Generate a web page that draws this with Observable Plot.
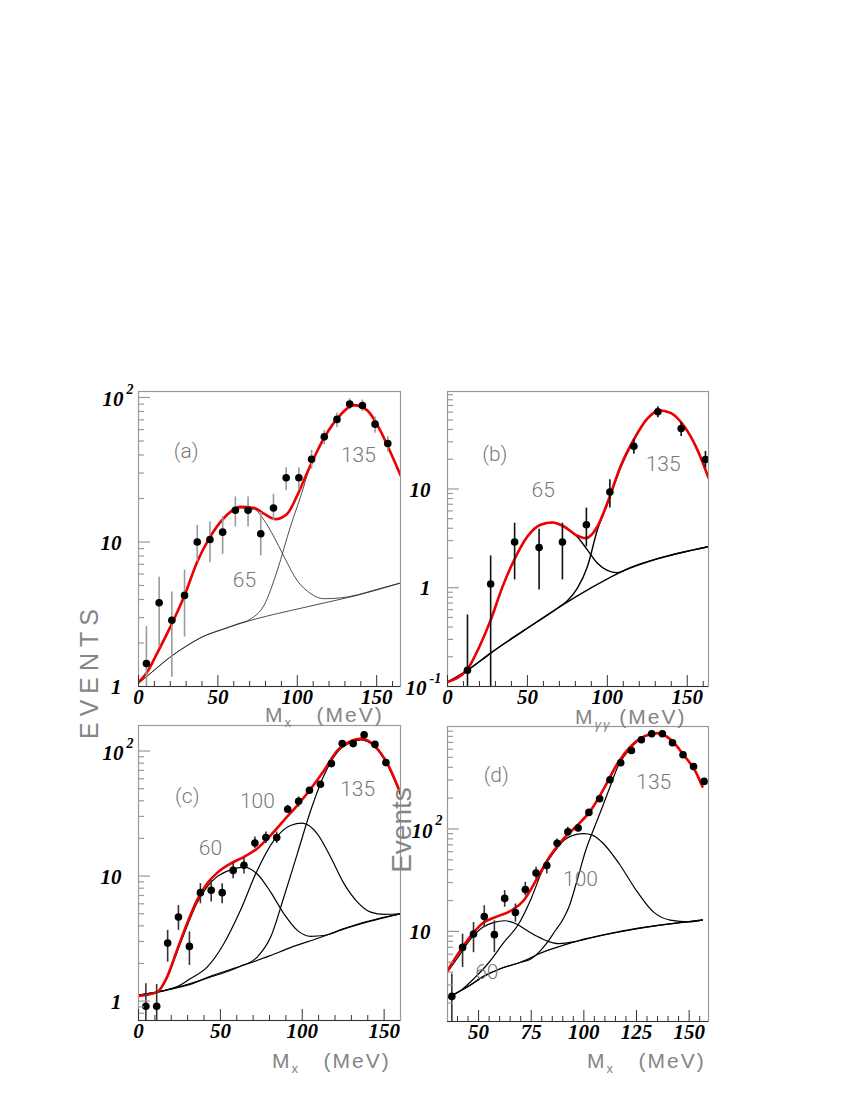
<!DOCTYPE html>
<html><head><meta charset="utf-8">
<script src="https://cdn.jsdelivr.net/npm/d3@7"></script>
<script src="https://cdn.jsdelivr.net/npm/@observablehq/plot@0.6"></script>
<style>
body{margin:0;background:#fff;}
#page{position:relative;width:850px;height:1100px;overflow:hidden;background:#fff;}
.lbl{position:absolute;font-family:"Liberation Sans",Arial,sans-serif;color:#858585;white-space:nowrap;line-height:1;}
.rot{transform:translate(-50%,-50%) rotate(-90deg);}
</style></head><body><div id="page"></div>
<script>
// ---------- Panel (a) ----------
const aX   = [5,13,21,29,37,45,53,61,69,77,85,93,101,109,117,125,133,141,149,157];
const aY   = [1.44,3.8,2.87,4.27,10,10.4,11.7,16.6,16.6,11.4,17.2,27.8,27.8,37.4,53.4,70.5,90,88,65.4,48];
const aHi  = [2.6,5.7,4.5,6.4,13,13.8,15,20.5,20.5,16,21.4,32.7,32.7,43,59,78,98,96,73.4,53.5];
const aLo  = [1,1.87,1.16,2.2,7.3,7.2,8.2,12.7,12.7,8,14.1,22.7,22.7,32,47,62,82,80,56.6,42];
const aRedX = [0,5.3,11.6,22,29,37,45,53.4,64,73,79,86.4,93.7,100,106,116.6,127,135.5,143.9,152.3,158.6,165];
const aRedY = [1.07,1.25,1.69,2.87,4.27,7.3,10.8,14.5,17.5,17.2,15.7,14.4,15.7,21,29.8,52,75.5,88.5,81.8,59,42,29];
const aBgX = [0,10,20,30,40,53.6,74.6,95.6,116.6,137.6,165];
const aBgY = [1.05,1.3,1.6,1.9,2.2,2.5,2.95,3.35,3.78,4.27,5.2];
const a65X = [0,5.3,11.6,22,29,37,45,53.4,64,73,79,85.4,91.7,100,108.5,116.6,127,137.6,150,165];
const a65Y = [1.07,1.24,1.66,2.83,4.2,7.2,10.6,14.2,17.2,16.8,14.2,10.8,7.9,5.4,4.39,4.05,4.1,4.3,4.7,5.2];
const a135X = [0,10,20,30,40,53.6,62,71,79,87.5,95.6,104,106,116.6,127,135.5,143.9,152.3,158.6,165];
const a135Y = [1.05,1.3,1.6,1.9,2.2,2.5,2.7,2.95,3.64,6.4,12.7,24,28.5,50.5,74,87.5,81,58.5,41.5,28.7];
const aYTicks = [1,10,100], aYText = ["1","10","10"], aYExp = ["","","2"];
const aXTicks = [0,50,100,150];

// ---------- Panel (b) ----------
const bX  = [12.5,27,42,57.3,71.9,86.9,101.6,116.6,131.6,146.2,161.4];
const bY  = [0.146,1.09,2.9,2.55,2.9,4.34,9.3,27.1,60.6,41,19.9];
const bHi = [0.53,2.1,4.5,3.9,4.5,6.4,12.4,31.6,67.8,47,24];
const bLo = [0.1,0.1,1.2,0.95,1.2,2.6,6.4,22.4,52.6,34,16.3];
const bRedX = [0,12.5,19.8,27,34.4,41.7,50,58.3,65.6,72.9,80.2,86.5,93.8,100,108.3,116.6,125,132.3,139.6,148,156.3,163.3];
const bRedY = [0.111,0.15,0.25,0.47,1.02,1.91,3.3,4.34,4.58,4.17,3.43,3.18,4.17,7.2,17,31.7,51.4,62.5,59,43.3,25,13];
const bBgX = [0,12.5,27,47.9,68.8,89.6,110.4,131.3,163.3];
const bBgY = [0.111,0.146,0.218,0.37,0.62,0.99,1.49,1.96,2.61];
const b65X = [0,12.5,19.8,27,34.4,41.7,50,58.3,65.6,72.9,81,87.5,93.8,100,106,115,131.3,163.3];
const b65Y = [0.111,0.15,0.25,0.47,1.02,1.91,3.3,4.34,4.58,4.12,3.3,2.42,1.77,1.5,1.42,1.62,1.97,2.61];
const b135X = [0,12.5,27,47.9,68.8,75,81.3,87.5,93.8,100,108.3,116.6,125,132.3,139.6,148,156.3,163.3];
const b135Y = [0.111,0.146,0.218,0.37,0.62,0.74,0.99,1.63,3.86,7.0,16.4,31.2,51,62,58.6,43,24.8,12.8];
const bYTicks = [0.1,1,10], bYText = ["10","1","10"], bYExp = ["-1","",""];
const bXTicks = [0,50,100,150];

// ---------- Panel (c) ----------
const cX  = [4.5,11.1,17.8,24.4,31.1,37.8,44.4,51.1,57.8,64.4,71.1,77.8,84.4,91.1,97.8,104.4,111.1,117.8,124.4,131.1,137.8,144.4,151.1];
const cY  = [0.91,0.91,2.91,4.7,2.74,7.37,7.7,7.37,11.1,12.2,18.4,20.3,20.3,34.2,39.6,48.5,54.2,79.3,114.6,114.6,135,113,80.8];
const cHi = [1.38,1.36,3.68,5.8,3.57,8.7,9.2,8.7,12.6,13.8,20.5,22.5,22.5,36.8,42.9,null,null,null,null,null,null,null,null];
const cLo = [0.7,0.7,2.05,3.68,1.93,6.0,6.2,6.0,9.5,10.4,16.6,18.2,18.2,31.6,35.6,null,null,null,null,null,null,null,null];
const cRedX = [0,11.3,17.4,23.5,29.6,35.7,41.9,48,56.2,64.3,72.5,80.7,88.8,97,105.2,113.3,121.5,129.6,135.8,143.9,152.1,160];
const cRedY = [1.1,1.18,1.56,2.55,4.16,6.4,8.7,10.6,12.6,14.2,16.6,21.2,27.9,36.8,50,70,101,120,125.6,111,79,46];
const cBgX = [0,10,20,31.6,45,62.2,80,92.8,110,123.4,140,160];
const cBgY = [1.12,1.17,1.25,1.36,1.6,1.9,2.3,2.68,3.2,3.7,4.3,5.0];
const c60X = [0,11.3,17.4,23.5,29.6,35.7,41.9,48,56.2,64.3,72.5,80.7,88.8,97,105.2,113.3,125,140,160];
const c60Y = [1.1,1.17,1.52,2.45,3.95,6.1,8.2,9.9,11.2,11.8,10.4,7.45,5.0,3.68,3.3,3.35,3.78,4.35,5.0];
const c100X = [0,10,20,25,31.6,41.9,52.1,62.2,72.5,82.7,92.8,100,109.2,117.3,125.5,133.7,141.8,150,160];
const c100Y = [1.12,1.17,1.26,1.33,1.51,1.87,2.88,5.3,11.1,19.3,25.4,26.5,21.8,14.2,8.7,6.2,5.15,4.94,5.0];
const c135X = [0,20,40,62.2,72.5,80.7,88.8,97,105.2,113.3,121.5,129.6,135.8,143.9,152.1,160];
const c135Y = [1.12,1.25,1.5,1.9,2.25,3.25,6.8,15.1,33.6,64,98,117,123,109,77,44.5];
const cYTicks = [1,10,100], cYText = ["1","10","10"], cYExp = ["","","2"];
const cXTicks = [0,50,100,150];

// ---------- Panel (d) ----------
const dX  = [37.3,42.4,47.6,52.7,57.5,62.4,67.5,72.2,77.3,82.4,87.3,92.4,97.3,102.4,107.5,112.4,117.5,122.6,127.3,132.2,137.3,142.1,147.1,152.1,157.1];
const dY  = [2.32,6.98,9.44,14,9.3,21,15.3,25.6,37.2,43.9,72.5,94,102,145,197,302,443,584,743,850,850,694,530,407,291];
const dHi = [3.84,9.4,12.2,17.8,12.7,25,18.5,30.1,42.3,49,80,104,110,null,null,null,null,null,null,null,null,null,null,null,null];
const dLo = [1.32,4.45,6.2,10.9,6.2,17.2,12.3,22.3,32.5,36.4,66,86,94,null,null,null,null,null,null,null,null,null,null,null,null];
const dRedX = [35.4,41.3,46.8,52.4,58,65.5,71.4,74.5,77.8,84.1,90.5,96.8,103.2,109.5,115.9,122.2,128.6,134.9,141.3,147.6,153.2,156.3];
const dRedY = [4.2,6.5,9.3,12.2,13.8,16.0,20,25,33,55,81,108,151,247,433,638,800,861,743,522,358,259];
const dBgX = [35.2,45,53,60,70,80,90,100,115,130,145,156.3];
const dBgY = [2.25,2.9,3.7,4.3,5.0,6.2,7.3,8.3,9.7,11.0,12.1,12.9];
const d60X = [35.2,40,46,52,57,62.5,68,73,78,83,88,95,100,115,130,145,156.3];
const d60Y = [4.0,5.5,8.3,11.0,12.2,12.7,11.8,10.2,8.9,8.0,7.6,7.9,8.4,9.8,11.05,12.15,12.95];
const d100X = [35.2,42,48,55,62,69,75,80,86,91,96,100,104,109,117,125,133,141,150,156.3];
const d100Y = [2.25,2.7,3.5,5.0,7.8,11.8,21,38,60,79,88,90,87,73,45,25,15.5,12.9,12.4,12.9];
const d135X = [35.2,45,53,60,70,75,82,86.5,90,93,96.5,100.8,104.7,108.7,112.5,116,122.2,128.6,134.9,141.3,147.6,153.2,156.3];
const d135Y = [2.25,2.9,3.7,4.3,5.0,5.4,7.5,10.2,13,17.5,30,61,100,162,260,400,615,790,855,738,518,356,258];
const dYTicks = [10,100], dYText = ["10","10"], dYExp = ["","2"];
const dXTicks = [50,75,100,125,150];

// ---------- layout / drawing ----------
const FRAME = "#9a9a9a";
const AXIS = "#333";
const NOTE = "#7a7a7a";
const tickFont = {fontFamily:'"Liberation Serif","Times New Roman",serif', fontWeight:"bold", fontStyle:"italic", fontSize:21, fill:"#000"};
const noteFont = {fontFamily:'Roboto,"Liberation Sans",sans-serif', fontWeight:300, fontSize:21, fill:NOTE};

function minorsLog(lo, hi) {
  const out = [];
  for (let e = -2; e <= 3; e++) for (let m = 2; m <= 9; m++) {
    const v = m * Math.pow(10, e);
    if (v > lo * 1.02 && v < hi * 0.98) out.push(+v.toPrecision(3));
  }
  return out;
}

const panels = [
  {left:138, top:391, w:262, h:295, xDomain:[0,165], yDomain:[1,110],
   x:aX, y:aY, hi:aHi, lo:aLo, errColor:"#9a9a9a",
   red:[aRedX,aRedY], comps:[[aBgX,aBgY],[a65X,a65Y],[a135X,a135Y]], compColor:"#222", compWidth:0.8,
   yTicks:aYTicks, yText:aYText, yExp:aYExp, xTicks:aXTicks, xMinorStep:10,
   notes:[["(a)",30,42.5],["135",138.5,40],["65",66.7,5.4]]},
  {left:447, top:391, w:261, h:295, xDomain:[0,163.3], yDomain:[0.1,97],
   x:bX, y:bY, hi:bHi, lo:bLo, errColor:"#111",
   red:[bRedX,bRedY], comps:[[bBgX,bBgY],[b65X,b65Y],[b135X,b135Y]], compColor:"#000", compWidth:1.4,
   yTicks:bYTicks, yText:bYText, yExp:bYExp, xTicks:bXTicks, xMinorStep:10,
   notes:[["(b)",29.6,22.3],["135",134.9,17.7],["65",59.9,9.6]]},
  {left:138, top:725, w:262, h:295, xDomain:[0,160], yDomain:[0.7,160],
   x:cX, y:cY, hi:cHi, lo:cLo, errColor:"#333",
   red:[cRedX,cRedY], comps:[[cBgX,cBgY],[c60X,c60Y],[c100X,c100Y],[c135X,c135Y]], compColor:"#000", compWidth:1.2,
   yTicks:cYTicks, yText:cYText, yExp:cYExp, xTicks:cXTicks, xMinorStep:10,
   notes:[["(c)",29.8,43.4],["100",72.6,39.6],["135",133.8,49.4],["60",43.9,16.8]]},
  {left:447, top:726, w:261, h:295, xDomain:[35.24,159.2], yDomain:[1.32,1000],
   x:dX, y:dY, hi:dHi, lo:dLo, errColor:"#333",
   red:[dRedX,dRedY], comps:[[dBgX,dBgY],[d60X,d60Y],[d100X,d100Y],[d135X,d135Y]], compColor:"#000", compWidth:1.2,
   yTicks:dYTicks, yText:dYText, yExp:dYExp, xTicks:dXTicks, xMinorStep:5,
   notes:[["(d)",58.4,333],["135",133.2,284],["100",98.4,32],["60",53.9,4.0]]}
];

const page = document.getElementById("page");
const ML = 62, MR = 8, MT = 14, MB = 46;

for (const p of panels) {
  const pts = p.x.map((x,i) => ({x, y:p.y[i], hi:p.hi[i], lo:p.lo[i]}));
  const pairs = (xs, ys) => xs.map((x,i) => ({x, y:ys[i]}));
  const yl = p.yTicks.map((v,i) => ({v, b:p.yText[i], e:p.yExp[i]}));
  const xMinor = d3.range(Math.ceil(p.xDomain[0]/p.xMinorStep)*p.xMinorStep, p.xDomain[1], p.xMinorStep)
    .filter(v => !p.xTicks.includes(v) && v > p.xDomain[0]+0.5);
  const yMinor = minorsLog(p.yDomain[0], p.yDomain[1]);
  const yMajor = p.yTicks.filter(v => v > p.yDomain[0]*1.02 && v < p.yDomain[1]*0.98);

  const marks = [
    ...p.comps.map(([xs,ys]) => Plot.line(pairs(xs,ys), {x:"x", y:"y", curve:"monotone-x", stroke:p.compColor, strokeWidth:p.compWidth, clip:true})),
    Plot.line(pairs(p.red[0], p.red[1]), {x:"x", y:"y", curve:"monotone-x", stroke:"#ee0000", strokeWidth:2.6, clip:true}),
    Plot.ruleX(pts.filter(d => d.hi != null), {x:"x", y1:"lo", y2:"hi", stroke:p.errColor, strokeWidth:1.6, clip:true}),
    Plot.dot(pts, {x:"x", y:"y", r:3.8, fill:"#000", stroke:"none", clip:true}),
    Plot.frame({stroke:FRAME, strokeWidth:1.2}),
    Plot.ruleY([p.yDomain[0]], {stroke:AXIS, strokeWidth:1.2}),
    Plot.tickY(yMajor, {y:d => d, insetRight:p.w-12, stroke:FRAME, strokeWidth:1.2}),
    Plot.tickY(yMinor, {y:d => d, insetRight:p.w-6, stroke:FRAME, strokeWidth:1.2}),
    Plot.tickX(p.xTicks, {x:d => d, insetTop:p.h-11, stroke:AXIS, strokeWidth:1}),
    Plot.tickX(xMinor, {x:d => d, insetTop:p.h-5, stroke:AXIS, strokeWidth:1}),
    Plot.text(p.xTicks, {x:d => d, text:d => String(d), frameAnchor:"bottom", dy:17, ...tickFont}),
    Plot.text(yl.filter(d => !d.e), {y:"v", text:"b", frameAnchor:"left", textAnchor:"end", dx:-17, dy:1, ...tickFont}),
    ...yl.filter(d => d.e).map(d => Plot.text([d], {y:"v", text:"b", frameAnchor:"left", textAnchor:"end", dx:-(9 + 6*d.e.length), dy:2, ...tickFont})),
    ...yl.filter(d => d.e).map(d => Plot.text([d], {y:"v", text:"e", frameAnchor:"left", textAnchor:"start", dx:-(6 + 6*d.e.length), dy:-8, ...tickFont, fontSize:14})),
    Plot.text(p.notes, {x:d => d[1], y:d => d[2], text:d => d[0], ...noteFont})
  ];

  const svg = Plot.plot({
    width: ML + p.w + MR, height: MT + p.h + MB,
    marginLeft: ML, marginRight: MR, marginTop: MT, marginBottom: MB,
    x: {type:"linear", domain:p.xDomain, axis:null},
    y: {type:"log", domain:p.yDomain, axis:null},
    style: {background:"transparent", overflow:"visible"},
    marks
  });
  svg.style.position = "absolute";
  svg.style.left = (p.left - ML) + "px";
  svg.style.top = (p.top - MT) + "px";
  page.appendChild(svg);
}

// ---------- text overlays ----------
function addLabel(html, css) {
  const d = document.createElement("div");
  d.className = "lbl";
  d.innerHTML = html;
  Object.assign(d.style, css);
  page.appendChild(d);
}
const mx = 'M<span style="font-size:13px;position:relative;top:5px">x</span>&nbsp;&nbsp;&nbsp;(MeV)';
const mgg = 'M<span style="font-size:13px;position:relative;top:5px;font-style:italic">&gamma;&gamma;</span>&nbsp;(MeV)';
addLabel(mx,  {left:"265px", top:"704px", fontSize:"21px", letterSpacing:"2px"});
addLabel(mgg, {left:"575px", top:"706px", fontSize:"21px", letterSpacing:"2px"});
addLabel(mx,  {left:"272px", top:"1050px", fontSize:"21px", letterSpacing:"2px"});
addLabel(mx,  {left:"587px", top:"1050px", fontSize:"21px", letterSpacing:"2px"});
addLabel("EVENTS", {left:"89px", top:"674px", fontSize:"25px", letterSpacing:"6px", paddingLeft:"6px"});
page.lastChild.classList.add("rot");
addLabel("Events", {left:"402px", top:"830px", fontSize:"28px"});
page.lastChild.classList.add("rot");
</script></body></html>
